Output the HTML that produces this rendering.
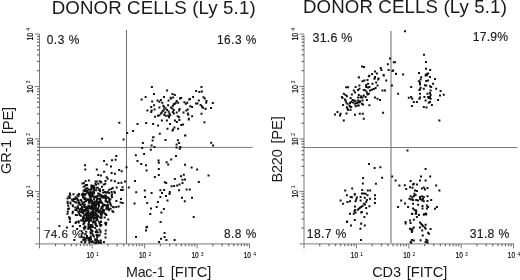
<!DOCTYPE html>
<html><head><meta charset="utf-8"><style>
html,body{margin:0;padding:0;background:#fff;}
svg{display:block;filter:blur(0.3px);}
text{font-family:"Liberation Sans",sans-serif;}
</style></head><body>
<svg width="520" height="280" viewBox="0 0 520 280">
<rect width="520" height="280" fill="#fff"/>
<line x1="39.5" y1="34" x2="39.5" y2="248.4" stroke="#7a7a7a" stroke-width="1"/>
<line x1="35.2" y1="243.9" x2="249.5" y2="243.9" stroke="#7a7a7a" stroke-width="1"/>
<line x1="37.0" y1="228.10" x2="39.5" y2="228.10" stroke="#6a6a6a" stroke-width="1.2"/>
<line x1="55.49" y1="243.9" x2="55.49" y2="246.20000000000002" stroke="#6a6a6a" stroke-width="1.2"/>
<line x1="37.0" y1="218.87" x2="39.5" y2="218.87" stroke="#6a6a6a" stroke-width="1.2"/>
<line x1="64.73" y1="243.9" x2="64.73" y2="246.20000000000002" stroke="#6a6a6a" stroke-width="1.2"/>
<line x1="37.0" y1="212.31" x2="39.5" y2="212.31" stroke="#6a6a6a" stroke-width="1.2"/>
<line x1="71.28" y1="243.9" x2="71.28" y2="246.20000000000002" stroke="#6a6a6a" stroke-width="1.2"/>
<line x1="37.0" y1="207.23" x2="39.5" y2="207.23" stroke="#6a6a6a" stroke-width="1.2"/>
<line x1="76.36" y1="243.9" x2="76.36" y2="246.20000000000002" stroke="#6a6a6a" stroke-width="1.2"/>
<line x1="37.0" y1="203.07" x2="39.5" y2="203.07" stroke="#6a6a6a" stroke-width="1.2"/>
<line x1="80.51" y1="243.9" x2="80.51" y2="246.20000000000002" stroke="#6a6a6a" stroke-width="1.2"/>
<line x1="37.0" y1="199.56" x2="39.5" y2="199.56" stroke="#6a6a6a" stroke-width="1.2"/>
<line x1="84.03" y1="243.9" x2="84.03" y2="246.20000000000002" stroke="#6a6a6a" stroke-width="1.2"/>
<line x1="37.0" y1="196.51" x2="39.5" y2="196.51" stroke="#6a6a6a" stroke-width="1.2"/>
<line x1="87.07" y1="243.9" x2="87.07" y2="246.20000000000002" stroke="#6a6a6a" stroke-width="1.2"/>
<line x1="37.0" y1="193.83" x2="39.5" y2="193.83" stroke="#6a6a6a" stroke-width="1.2"/>
<line x1="89.75" y1="243.9" x2="89.75" y2="246.20000000000002" stroke="#6a6a6a" stroke-width="1.2"/>
<line x1="37.0" y1="175.63" x2="39.5" y2="175.63" stroke="#6a6a6a" stroke-width="1.2"/>
<line x1="107.94" y1="243.9" x2="107.94" y2="246.20000000000002" stroke="#6a6a6a" stroke-width="1.2"/>
<line x1="37.0" y1="166.40" x2="39.5" y2="166.40" stroke="#6a6a6a" stroke-width="1.2"/>
<line x1="117.18" y1="243.9" x2="117.18" y2="246.20000000000002" stroke="#6a6a6a" stroke-width="1.2"/>
<line x1="37.0" y1="159.84" x2="39.5" y2="159.84" stroke="#6a6a6a" stroke-width="1.2"/>
<line x1="123.73" y1="243.9" x2="123.73" y2="246.20000000000002" stroke="#6a6a6a" stroke-width="1.2"/>
<line x1="37.0" y1="154.76" x2="39.5" y2="154.76" stroke="#6a6a6a" stroke-width="1.2"/>
<line x1="128.81" y1="243.9" x2="128.81" y2="246.20000000000002" stroke="#6a6a6a" stroke-width="1.2"/>
<line x1="37.0" y1="150.60" x2="39.5" y2="150.60" stroke="#6a6a6a" stroke-width="1.2"/>
<line x1="132.96" y1="243.9" x2="132.96" y2="246.20000000000002" stroke="#6a6a6a" stroke-width="1.2"/>
<line x1="37.0" y1="147.09" x2="39.5" y2="147.09" stroke="#6a6a6a" stroke-width="1.2"/>
<line x1="136.48" y1="243.9" x2="136.48" y2="246.20000000000002" stroke="#6a6a6a" stroke-width="1.2"/>
<line x1="37.0" y1="144.04" x2="39.5" y2="144.04" stroke="#6a6a6a" stroke-width="1.2"/>
<line x1="139.52" y1="243.9" x2="139.52" y2="246.20000000000002" stroke="#6a6a6a" stroke-width="1.2"/>
<line x1="37.0" y1="141.36" x2="39.5" y2="141.36" stroke="#6a6a6a" stroke-width="1.2"/>
<line x1="142.20" y1="243.9" x2="142.20" y2="246.20000000000002" stroke="#6a6a6a" stroke-width="1.2"/>
<line x1="37.0" y1="123.16" x2="39.5" y2="123.16" stroke="#6a6a6a" stroke-width="1.2"/>
<line x1="160.39" y1="243.9" x2="160.39" y2="246.20000000000002" stroke="#6a6a6a" stroke-width="1.2"/>
<line x1="37.0" y1="113.93" x2="39.5" y2="113.93" stroke="#6a6a6a" stroke-width="1.2"/>
<line x1="169.63" y1="243.9" x2="169.63" y2="246.20000000000002" stroke="#6a6a6a" stroke-width="1.2"/>
<line x1="37.0" y1="107.37" x2="39.5" y2="107.37" stroke="#6a6a6a" stroke-width="1.2"/>
<line x1="176.18" y1="243.9" x2="176.18" y2="246.20000000000002" stroke="#6a6a6a" stroke-width="1.2"/>
<line x1="37.0" y1="102.29" x2="39.5" y2="102.29" stroke="#6a6a6a" stroke-width="1.2"/>
<line x1="181.26" y1="243.9" x2="181.26" y2="246.20000000000002" stroke="#6a6a6a" stroke-width="1.2"/>
<line x1="37.0" y1="98.13" x2="39.5" y2="98.13" stroke="#6a6a6a" stroke-width="1.2"/>
<line x1="185.41" y1="243.9" x2="185.41" y2="246.20000000000002" stroke="#6a6a6a" stroke-width="1.2"/>
<line x1="37.0" y1="94.62" x2="39.5" y2="94.62" stroke="#6a6a6a" stroke-width="1.2"/>
<line x1="188.93" y1="243.9" x2="188.93" y2="246.20000000000002" stroke="#6a6a6a" stroke-width="1.2"/>
<line x1="37.0" y1="91.57" x2="39.5" y2="91.57" stroke="#6a6a6a" stroke-width="1.2"/>
<line x1="191.97" y1="243.9" x2="191.97" y2="246.20000000000002" stroke="#6a6a6a" stroke-width="1.2"/>
<line x1="37.0" y1="88.89" x2="39.5" y2="88.89" stroke="#6a6a6a" stroke-width="1.2"/>
<line x1="194.65" y1="243.9" x2="194.65" y2="246.20000000000002" stroke="#6a6a6a" stroke-width="1.2"/>
<line x1="37.0" y1="70.69" x2="39.5" y2="70.69" stroke="#6a6a6a" stroke-width="1.2"/>
<line x1="212.84" y1="243.9" x2="212.84" y2="246.20000000000002" stroke="#6a6a6a" stroke-width="1.2"/>
<line x1="37.0" y1="61.46" x2="39.5" y2="61.46" stroke="#6a6a6a" stroke-width="1.2"/>
<line x1="222.08" y1="243.9" x2="222.08" y2="246.20000000000002" stroke="#6a6a6a" stroke-width="1.2"/>
<line x1="37.0" y1="54.90" x2="39.5" y2="54.90" stroke="#6a6a6a" stroke-width="1.2"/>
<line x1="228.63" y1="243.9" x2="228.63" y2="246.20000000000002" stroke="#6a6a6a" stroke-width="1.2"/>
<line x1="37.0" y1="49.82" x2="39.5" y2="49.82" stroke="#6a6a6a" stroke-width="1.2"/>
<line x1="233.71" y1="243.9" x2="233.71" y2="246.20000000000002" stroke="#6a6a6a" stroke-width="1.2"/>
<line x1="37.0" y1="45.66" x2="39.5" y2="45.66" stroke="#6a6a6a" stroke-width="1.2"/>
<line x1="237.86" y1="243.9" x2="237.86" y2="246.20000000000002" stroke="#6a6a6a" stroke-width="1.2"/>
<line x1="37.0" y1="42.15" x2="39.5" y2="42.15" stroke="#6a6a6a" stroke-width="1.2"/>
<line x1="241.38" y1="243.9" x2="241.38" y2="246.20000000000002" stroke="#6a6a6a" stroke-width="1.2"/>
<line x1="37.0" y1="39.10" x2="39.5" y2="39.10" stroke="#6a6a6a" stroke-width="1.2"/>
<line x1="244.42" y1="243.9" x2="244.42" y2="246.20000000000002" stroke="#6a6a6a" stroke-width="1.2"/>
<line x1="37.0" y1="36.42" x2="39.5" y2="36.42" stroke="#6a6a6a" stroke-width="1.2"/>
<line x1="247.10" y1="243.9" x2="247.10" y2="246.20000000000002" stroke="#6a6a6a" stroke-width="1.2"/>
<line x1="35.0" y1="191.43" x2="39.5" y2="191.43" stroke="#7a7a7a" stroke-width="1"/>
<line x1="92.15" y1="243.9" x2="92.15" y2="248.4" stroke="#7a7a7a" stroke-width="1"/>
<line x1="35.0" y1="138.96" x2="39.5" y2="138.96" stroke="#7a7a7a" stroke-width="1"/>
<line x1="144.60" y1="243.9" x2="144.60" y2="248.4" stroke="#7a7a7a" stroke-width="1"/>
<line x1="35.0" y1="86.49" x2="39.5" y2="86.49" stroke="#7a7a7a" stroke-width="1"/>
<line x1="197.05" y1="243.9" x2="197.05" y2="248.4" stroke="#7a7a7a" stroke-width="1"/>
<line x1="35.0" y1="34.02" x2="39.5" y2="34.02" stroke="#7a7a7a" stroke-width="1"/>
<line x1="249.50" y1="243.9" x2="249.50" y2="248.4" stroke="#7a7a7a" stroke-width="1"/>
<line x1="304.0" y1="35" x2="304.0" y2="248.4" stroke="#7a7a7a" stroke-width="1"/>
<line x1="299.5" y1="243.9" x2="514" y2="243.9" stroke="#7a7a7a" stroke-width="1"/>
<line x1="301.5" y1="228.10" x2="304.0" y2="228.10" stroke="#6a6a6a" stroke-width="1.2"/>
<line x1="319.77" y1="243.9" x2="319.77" y2="246.20000000000002" stroke="#6a6a6a" stroke-width="1.2"/>
<line x1="301.5" y1="218.87" x2="304.0" y2="218.87" stroke="#6a6a6a" stroke-width="1.2"/>
<line x1="329.00" y1="243.9" x2="329.00" y2="246.20000000000002" stroke="#6a6a6a" stroke-width="1.2"/>
<line x1="301.5" y1="212.31" x2="304.0" y2="212.31" stroke="#6a6a6a" stroke-width="1.2"/>
<line x1="335.55" y1="243.9" x2="335.55" y2="246.20000000000002" stroke="#6a6a6a" stroke-width="1.2"/>
<line x1="301.5" y1="207.23" x2="304.0" y2="207.23" stroke="#6a6a6a" stroke-width="1.2"/>
<line x1="340.63" y1="243.9" x2="340.63" y2="246.20000000000002" stroke="#6a6a6a" stroke-width="1.2"/>
<line x1="301.5" y1="203.07" x2="304.0" y2="203.07" stroke="#6a6a6a" stroke-width="1.2"/>
<line x1="344.78" y1="243.9" x2="344.78" y2="246.20000000000002" stroke="#6a6a6a" stroke-width="1.2"/>
<line x1="301.5" y1="199.56" x2="304.0" y2="199.56" stroke="#6a6a6a" stroke-width="1.2"/>
<line x1="348.28" y1="243.9" x2="348.28" y2="246.20000000000002" stroke="#6a6a6a" stroke-width="1.2"/>
<line x1="301.5" y1="196.51" x2="304.0" y2="196.51" stroke="#6a6a6a" stroke-width="1.2"/>
<line x1="351.32" y1="243.9" x2="351.32" y2="246.20000000000002" stroke="#6a6a6a" stroke-width="1.2"/>
<line x1="301.5" y1="193.83" x2="304.0" y2="193.83" stroke="#6a6a6a" stroke-width="1.2"/>
<line x1="354.00" y1="243.9" x2="354.00" y2="246.20000000000002" stroke="#6a6a6a" stroke-width="1.2"/>
<line x1="301.5" y1="175.63" x2="304.0" y2="175.63" stroke="#6a6a6a" stroke-width="1.2"/>
<line x1="372.17" y1="243.9" x2="372.17" y2="246.20000000000002" stroke="#6a6a6a" stroke-width="1.2"/>
<line x1="301.5" y1="166.40" x2="304.0" y2="166.40" stroke="#6a6a6a" stroke-width="1.2"/>
<line x1="381.40" y1="243.9" x2="381.40" y2="246.20000000000002" stroke="#6a6a6a" stroke-width="1.2"/>
<line x1="301.5" y1="159.84" x2="304.0" y2="159.84" stroke="#6a6a6a" stroke-width="1.2"/>
<line x1="387.95" y1="243.9" x2="387.95" y2="246.20000000000002" stroke="#6a6a6a" stroke-width="1.2"/>
<line x1="301.5" y1="154.76" x2="304.0" y2="154.76" stroke="#6a6a6a" stroke-width="1.2"/>
<line x1="393.03" y1="243.9" x2="393.03" y2="246.20000000000002" stroke="#6a6a6a" stroke-width="1.2"/>
<line x1="301.5" y1="150.60" x2="304.0" y2="150.60" stroke="#6a6a6a" stroke-width="1.2"/>
<line x1="397.18" y1="243.9" x2="397.18" y2="246.20000000000002" stroke="#6a6a6a" stroke-width="1.2"/>
<line x1="301.5" y1="147.09" x2="304.0" y2="147.09" stroke="#6a6a6a" stroke-width="1.2"/>
<line x1="400.68" y1="243.9" x2="400.68" y2="246.20000000000002" stroke="#6a6a6a" stroke-width="1.2"/>
<line x1="301.5" y1="144.04" x2="304.0" y2="144.04" stroke="#6a6a6a" stroke-width="1.2"/>
<line x1="403.72" y1="243.9" x2="403.72" y2="246.20000000000002" stroke="#6a6a6a" stroke-width="1.2"/>
<line x1="301.5" y1="141.36" x2="304.0" y2="141.36" stroke="#6a6a6a" stroke-width="1.2"/>
<line x1="406.40" y1="243.9" x2="406.40" y2="246.20000000000002" stroke="#6a6a6a" stroke-width="1.2"/>
<line x1="301.5" y1="123.16" x2="304.0" y2="123.16" stroke="#6a6a6a" stroke-width="1.2"/>
<line x1="424.57" y1="243.9" x2="424.57" y2="246.20000000000002" stroke="#6a6a6a" stroke-width="1.2"/>
<line x1="301.5" y1="113.93" x2="304.0" y2="113.93" stroke="#6a6a6a" stroke-width="1.2"/>
<line x1="433.80" y1="243.9" x2="433.80" y2="246.20000000000002" stroke="#6a6a6a" stroke-width="1.2"/>
<line x1="301.5" y1="107.37" x2="304.0" y2="107.37" stroke="#6a6a6a" stroke-width="1.2"/>
<line x1="440.35" y1="243.9" x2="440.35" y2="246.20000000000002" stroke="#6a6a6a" stroke-width="1.2"/>
<line x1="301.5" y1="102.29" x2="304.0" y2="102.29" stroke="#6a6a6a" stroke-width="1.2"/>
<line x1="445.43" y1="243.9" x2="445.43" y2="246.20000000000002" stroke="#6a6a6a" stroke-width="1.2"/>
<line x1="301.5" y1="98.13" x2="304.0" y2="98.13" stroke="#6a6a6a" stroke-width="1.2"/>
<line x1="449.58" y1="243.9" x2="449.58" y2="246.20000000000002" stroke="#6a6a6a" stroke-width="1.2"/>
<line x1="301.5" y1="94.62" x2="304.0" y2="94.62" stroke="#6a6a6a" stroke-width="1.2"/>
<line x1="453.08" y1="243.9" x2="453.08" y2="246.20000000000002" stroke="#6a6a6a" stroke-width="1.2"/>
<line x1="301.5" y1="91.57" x2="304.0" y2="91.57" stroke="#6a6a6a" stroke-width="1.2"/>
<line x1="456.12" y1="243.9" x2="456.12" y2="246.20000000000002" stroke="#6a6a6a" stroke-width="1.2"/>
<line x1="301.5" y1="88.89" x2="304.0" y2="88.89" stroke="#6a6a6a" stroke-width="1.2"/>
<line x1="458.80" y1="243.9" x2="458.80" y2="246.20000000000002" stroke="#6a6a6a" stroke-width="1.2"/>
<line x1="301.5" y1="70.69" x2="304.0" y2="70.69" stroke="#6a6a6a" stroke-width="1.2"/>
<line x1="476.97" y1="243.9" x2="476.97" y2="246.20000000000002" stroke="#6a6a6a" stroke-width="1.2"/>
<line x1="301.5" y1="61.46" x2="304.0" y2="61.46" stroke="#6a6a6a" stroke-width="1.2"/>
<line x1="486.20" y1="243.9" x2="486.20" y2="246.20000000000002" stroke="#6a6a6a" stroke-width="1.2"/>
<line x1="301.5" y1="54.90" x2="304.0" y2="54.90" stroke="#6a6a6a" stroke-width="1.2"/>
<line x1="492.75" y1="243.9" x2="492.75" y2="246.20000000000002" stroke="#6a6a6a" stroke-width="1.2"/>
<line x1="301.5" y1="49.82" x2="304.0" y2="49.82" stroke="#6a6a6a" stroke-width="1.2"/>
<line x1="497.83" y1="243.9" x2="497.83" y2="246.20000000000002" stroke="#6a6a6a" stroke-width="1.2"/>
<line x1="301.5" y1="45.66" x2="304.0" y2="45.66" stroke="#6a6a6a" stroke-width="1.2"/>
<line x1="501.98" y1="243.9" x2="501.98" y2="246.20000000000002" stroke="#6a6a6a" stroke-width="1.2"/>
<line x1="301.5" y1="42.15" x2="304.0" y2="42.15" stroke="#6a6a6a" stroke-width="1.2"/>
<line x1="505.48" y1="243.9" x2="505.48" y2="246.20000000000002" stroke="#6a6a6a" stroke-width="1.2"/>
<line x1="301.5" y1="39.10" x2="304.0" y2="39.10" stroke="#6a6a6a" stroke-width="1.2"/>
<line x1="508.52" y1="243.9" x2="508.52" y2="246.20000000000002" stroke="#6a6a6a" stroke-width="1.2"/>
<line x1="301.5" y1="36.42" x2="304.0" y2="36.42" stroke="#6a6a6a" stroke-width="1.2"/>
<line x1="511.20" y1="243.9" x2="511.20" y2="246.20000000000002" stroke="#6a6a6a" stroke-width="1.2"/>
<line x1="299.5" y1="191.43" x2="304.0" y2="191.43" stroke="#7a7a7a" stroke-width="1"/>
<line x1="356.40" y1="243.9" x2="356.40" y2="248.4" stroke="#7a7a7a" stroke-width="1"/>
<line x1="299.5" y1="138.96" x2="304.0" y2="138.96" stroke="#7a7a7a" stroke-width="1"/>
<line x1="408.80" y1="243.9" x2="408.80" y2="248.4" stroke="#7a7a7a" stroke-width="1"/>
<line x1="299.5" y1="86.49" x2="304.0" y2="86.49" stroke="#7a7a7a" stroke-width="1"/>
<line x1="461.20" y1="243.9" x2="461.20" y2="248.4" stroke="#7a7a7a" stroke-width="1"/>
<line x1="299.5" y1="34.02" x2="304.0" y2="34.02" stroke="#7a7a7a" stroke-width="1"/>
<line x1="513.60" y1="243.9" x2="513.60" y2="248.4" stroke="#7a7a7a" stroke-width="1"/>
<line x1="126.5" y1="30" x2="126.5" y2="243.9" stroke="#6e6e6e" stroke-width="1"/>
<line x1="39.5" y1="147.4" x2="252.8" y2="147.4" stroke="#7a7a7a" stroke-width="1"/>
<line x1="391" y1="31" x2="391" y2="243.9" stroke="#b4b4b4" stroke-width="2"/>
<line x1="304" y1="147.5" x2="517.5" y2="147.5" stroke="#7a7a7a" stroke-width="1"/>
<text x="86.60" y="257.60" font-size="8.8" textLength="7.21" lengthAdjust="spacingAndGlyphs" fill="#000" stroke="#000" stroke-width="0.2">10</text>
<text x="95.89" y="256.10" font-size="5.0" fill="#000">1</text>
<text transform="translate(33.00,197.78) rotate(-90)" font-size="8.8" textLength="7.81" lengthAdjust="spacingAndGlyphs" fill="#000" stroke="#000" stroke-width="0.2">10</text>
<text transform="translate(30.40,188.29) rotate(-90)" font-size="5.0" fill="#000">1</text>
<text x="138.99" y="257.60" font-size="8.8" textLength="7.21" lengthAdjust="spacingAndGlyphs" fill="#000" stroke="#000" stroke-width="0.2">10</text>
<text x="148.41" y="256.10" font-size="5.0" fill="#000">2</text>
<text transform="translate(33.00,145.37) rotate(-90)" font-size="8.8" textLength="7.81" lengthAdjust="spacingAndGlyphs" fill="#000" stroke="#000" stroke-width="0.2">10</text>
<text transform="translate(30.40,135.75) rotate(-90)" font-size="5.0" fill="#000">2</text>
<text x="191.39" y="257.60" font-size="8.8" textLength="7.21" lengthAdjust="spacingAndGlyphs" fill="#000" stroke="#000" stroke-width="0.2">10</text>
<text x="200.87" y="256.10" font-size="5.0" fill="#000">3</text>
<text transform="translate(33.00,92.95) rotate(-90)" font-size="8.8" textLength="7.81" lengthAdjust="spacingAndGlyphs" fill="#000" stroke="#000" stroke-width="0.2">10</text>
<text transform="translate(30.40,83.27) rotate(-90)" font-size="5.0" fill="#000">3</text>
<text x="243.77" y="257.60" font-size="8.8" textLength="7.21" lengthAdjust="spacingAndGlyphs" fill="#000" stroke="#000" stroke-width="0.2">10</text>
<text x="253.33" y="256.10" font-size="5.0" fill="#000">4</text>
<text transform="translate(33.00,40.55) rotate(-90)" font-size="8.8" textLength="7.81" lengthAdjust="spacingAndGlyphs" fill="#000" stroke="#000" stroke-width="0.2">10</text>
<text transform="translate(30.40,30.79) rotate(-90)" font-size="5.0" fill="#000">4</text>
<text x="350.85" y="257.60" font-size="8.8" textLength="7.21" lengthAdjust="spacingAndGlyphs" fill="#000" stroke="#000" stroke-width="0.2">10</text>
<text x="360.14" y="256.10" font-size="5.0" fill="#000">1</text>
<text transform="translate(297.50,197.78) rotate(-90)" font-size="8.8" textLength="7.81" lengthAdjust="spacingAndGlyphs" fill="#000" stroke="#000" stroke-width="0.2">10</text>
<text transform="translate(294.90,188.29) rotate(-90)" font-size="5.0" fill="#000">1</text>
<text x="403.19" y="257.60" font-size="8.8" textLength="7.21" lengthAdjust="spacingAndGlyphs" fill="#000" stroke="#000" stroke-width="0.2">10</text>
<text x="412.61" y="256.10" font-size="5.0" fill="#000">2</text>
<text transform="translate(297.50,145.37) rotate(-90)" font-size="8.8" textLength="7.81" lengthAdjust="spacingAndGlyphs" fill="#000" stroke="#000" stroke-width="0.2">10</text>
<text transform="translate(294.90,135.75) rotate(-90)" font-size="5.0" fill="#000">2</text>
<text x="455.54" y="257.60" font-size="8.8" textLength="7.21" lengthAdjust="spacingAndGlyphs" fill="#000" stroke="#000" stroke-width="0.2">10</text>
<text x="465.02" y="256.10" font-size="5.0" fill="#000">3</text>
<text transform="translate(297.50,92.95) rotate(-90)" font-size="8.8" textLength="7.81" lengthAdjust="spacingAndGlyphs" fill="#000" stroke="#000" stroke-width="0.2">10</text>
<text transform="translate(294.90,83.27) rotate(-90)" font-size="5.0" fill="#000">3</text>
<text x="507.87" y="257.60" font-size="8.8" textLength="7.21" lengthAdjust="spacingAndGlyphs" fill="#000" stroke="#000" stroke-width="0.2">10</text>
<text x="517.43" y="256.10" font-size="5.0" fill="#000">4</text>
<text transform="translate(297.50,40.55) rotate(-90)" font-size="8.8" textLength="7.81" lengthAdjust="spacingAndGlyphs" fill="#000" stroke="#000" stroke-width="0.2">10</text>
<text transform="translate(294.90,30.79) rotate(-90)" font-size="5.0" fill="#000">4</text>
<text x="51.67" y="13.80" font-size="18.70" textLength="203.99" lengthAdjust="spacing" fill="#1a1a1a">DONOR CELLS (Ly 5.1)</text>
<text x="302.97" y="13.00" font-size="18.70" textLength="203.89" lengthAdjust="spacing" fill="#1a1a1a">DONOR CELLS (Ly 5.1)</text>
<text x="46.74" y="43.80" font-size="11.89" textLength="32.49" lengthAdjust="spacing" fill="#1a1a1a" stroke="#1a1a1a" stroke-width="0.15">0.3 %</text>
<text x="217.09" y="43.80" font-size="11.89" textLength="39.13" lengthAdjust="spacing" fill="#1a1a1a" stroke="#1a1a1a" stroke-width="0.15">16.3 %</text>
<text x="43.90" y="238.20" font-size="11.75" textLength="38.52" lengthAdjust="spacing" fill="#1a1a1a" stroke="#1a1a1a" stroke-width="0.15">74.6 %</text>
<text x="223.98" y="238.00" font-size="11.89" textLength="32.24" lengthAdjust="spacing" fill="#1a1a1a" stroke="#1a1a1a" stroke-width="0.15">8.8 %</text>
<text x="312.53" y="41.50" font-size="12.46" textLength="39.92" lengthAdjust="spacing" fill="#1a1a1a" stroke="#1a1a1a" stroke-width="0.15">31.6 %</text>
<text x="472.77" y="41.30" font-size="12.18" textLength="35.36" lengthAdjust="spacing" fill="#1a1a1a" stroke="#1a1a1a" stroke-width="0.15">17.9%</text>
<text x="306.87" y="238.00" font-size="12.18" textLength="39.36" lengthAdjust="spacing" fill="#1a1a1a" stroke="#1a1a1a" stroke-width="0.15">18.7 %</text>
<text x="469.74" y="237.80" font-size="12.18" textLength="39.50" lengthAdjust="spacing" fill="#1a1a1a" stroke="#1a1a1a" stroke-width="0.15">31.8 %</text>
<text x="126.03" y="276.50" font-size="14.30" textLength="38.67" lengthAdjust="spacing" fill="#1a1a1a">Mac-1</text>
<text x="170.75" y="276.50" font-size="14.70" textLength="40.70" lengthAdjust="spacing" fill="#1a1a1a">[FITC]</text>
<text x="372.16" y="276.60" font-size="14.50" textLength="28.97" lengthAdjust="spacing" fill="#1a1a1a">CD3</text>
<text x="406.65" y="276.60" font-size="14.70" textLength="40.80" lengthAdjust="spacing" fill="#1a1a1a">[FITC]</text>
<text transform="translate(10.60,173.93) rotate(-90)" font-size="14.60" textLength="34.15" lengthAdjust="spacing" fill="#1a1a1a">GR-1</text>
<text transform="translate(12.70,134.06) rotate(-90)" font-size="14.80" textLength="27.31" lengthAdjust="spacing" fill="#1a1a1a">[PE]</text>
<text transform="translate(282.40,182.39) rotate(-90)" font-size="14.50" textLength="33.16" lengthAdjust="spacing" fill="#1a1a1a">B220</text>
<text transform="translate(281.90,143.56) rotate(-90)" font-size="14.80" textLength="27.41" lengthAdjust="spacing" fill="#1a1a1a">[PE]</text>
<path d="M118.3 121.7h2v2h-2zM126.2 132.0h2v2h-2zM101.1 137.8h2v2h-2zM122.6 138.6h2v2h-2zM150.9 86.1h2v2h-2zM166.1 89.6h2v2h-2zM153.0 93.1h2v2h-2zM171.5 93.1h2v2h-2zM173.8 94.0h2v2h-2zM144.6 96.1h2v2h-2zM163.0 96.1h2v2h-2zM140.6 98.6h2v2h-2zM169.6 96.8h2v2h-2zM172.1 96.5h2v2h-2zM179.0 97.5h2v2h-2zM180.2 96.9h2v2h-2zM192.1 95.9h2v2h-2zM189.0 98.0h2v2h-2zM200.5 86.1h2v2h-2zM195.2 89.9h2v2h-2zM198.4 91.1h2v2h-2zM200.9 90.5h2v2h-2zM202.5 96.2h2v2h-2zM203.8 97.5h2v2h-2zM197.8 99.6h2v2h-2zM205.5 100.0h2v2h-2zM205.2 101.8h2v2h-2zM195.0 102.5h2v2h-2zM196.5 102.5h2v2h-2zM211.8 102.0h2v2h-2zM199.6 104.0h2v2h-2zM200.9 105.2h2v2h-2zM202.1 106.8h2v2h-2zM204.6 107.8h2v2h-2zM210.0 106.9h2v2h-2zM178.4 119.0h2v2h-2zM187.8 118.4h2v2h-2zM160.9 119.6h2v2h-2zM165.9 119.6h2v2h-2zM174.0 119.6h2v2h-2zM175.9 120.9h2v2h-2zM145.2 122.1h2v2h-2zM136.5 123.0h2v2h-2zM152.1 123.0h2v2h-2zM157.1 124.6h2v2h-2zM169.0 123.0h2v2h-2zM180.2 124.0h2v2h-2zM182.1 123.4h2v2h-2zM173.4 126.5h2v2h-2zM172.1 128.4h2v2h-2zM171.5 129.6h2v2h-2zM166.5 127.8h2v2h-2zM177.1 127.8h2v2h-2zM132.1 130.0h2v2h-2zM158.8 132.8h2v2h-2zM152.1 136.2h2v2h-2zM184.0 134.4h2v2h-2zM201.5 106.5h2v2h-2zM204.6 108.0h2v2h-2zM200.5 112.8h2v2h-2zM203.4 121.2h2v2h-2zM152.5 136.2h2v2h-2zM151.6 139.6h2v2h-2zM141.9 141.9h2v2h-2zM164.5 139.0h2v2h-2zM150.6 144.6h2v2h-2zM153.5 146.1h2v2h-2zM141.2 146.9h2v2h-2zM149.8 148.8h2v2h-2zM176.9 139.2h2v2h-2zM178.1 141.9h2v2h-2zM175.6 143.4h2v2h-2zM175.6 146.5h2v2h-2zM179.4 145.9h2v2h-2zM178.8 147.8h2v2h-2zM184.4 134.6h2v2h-2zM134.8 154.2h2v2h-2zM143.1 153.0h2v2h-2zM175.0 155.0h2v2h-2zM136.5 160.0h2v2h-2zM157.5 159.4h2v2h-2zM157.8 161.8h2v2h-2zM165.6 161.2h2v2h-2zM167.2 163.4h2v2h-2zM170.2 158.4h2v2h-2zM140.2 163.0h2v2h-2zM145.0 164.2h2v2h-2zM184.0 163.8h2v2h-2zM157.8 168.0h2v2h-2zM125.5 166.2h2v2h-2zM210.2 141.8h2v2h-2zM212.1 144.6h2v2h-2zM190.6 166.5h2v2h-2zM196.2 168.5h2v2h-2zM145.6 169.6h2v2h-2zM157.8 174.0h2v2h-2zM153.8 175.9h2v2h-2zM134.0 180.0h2v2h-2zM173.8 178.0h2v2h-2zM180.0 175.2h2v2h-2zM182.8 173.8h2v2h-2zM181.5 178.8h2v2h-2zM184.0 178.4h2v2h-2zM163.8 181.2h2v2h-2zM165.2 182.1h2v2h-2zM127.8 186.5h2v2h-2zM170.6 185.2h2v2h-2zM173.1 185.0h2v2h-2zM176.2 184.6h2v2h-2zM178.5 183.4h2v2h-2zM181.5 182.1h2v2h-2zM159.4 189.2h2v2h-2zM163.1 189.0h2v2h-2zM143.8 189.6h2v2h-2zM135.2 191.2h2v2h-2zM150.6 192.1h2v2h-2zM161.0 191.9h2v2h-2zM168.8 190.9h2v2h-2zM168.5 193.0h2v2h-2zM178.1 189.2h2v2h-2zM185.6 188.6h2v2h-2zM188.8 188.6h2v2h-2zM144.0 195.9h2v2h-2zM159.4 195.9h2v2h-2zM165.0 195.0h2v2h-2zM181.0 196.8h2v2h-2zM166.5 199.6h2v2h-2zM156.9 200.9h2v2h-2zM183.8 200.2h2v2h-2zM146.2 201.9h2v2h-2zM133.5 202.5h2v2h-2zM207.5 174.6h2v2h-2zM197.8 181.1h2v2h-2zM191.0 196.8h2v2h-2zM150.0 207.6h2v2h-2zM155.7 206.1h2v2h-2zM162.9 208.0h2v2h-2zM149.3 212.9h2v2h-2zM160.4 211.6h2v2h-2zM159.6 221.1h2v2h-2zM146.1 225.7h2v2h-2zM145.3 226.6h2v2h-2zM145.0 229.4h2v2h-2zM163.6 231.9h2v2h-2zM135.0 235.9h2v2h-2zM163.6 235.9h2v2h-2zM160.0 237.7h2v2h-2zM165.4 239.0h2v2h-2zM173.6 239.1h2v2h-2zM158.1 240.9h2v2h-2zM192.7 215.9h2v2h-2zM115.3 155.0h2v2h-2zM114.6 158.7h2v2h-2zM111.0 159.3h2v2h-2zM103.1 160.0h2v2h-2zM105.7 163.6h2v2h-2zM110.0 165.5h2v2h-2zM84.0 164.3h2v2h-2zM84.3 168.4h2v2h-2zM95.8 168.4h2v2h-2zM118.2 169.1h2v2h-2zM120.7 170.2h2v2h-2zM103.1 170.8h2v2h-2zM110.6 172.0h2v2h-2zM113.9 172.7h2v2h-2zM97.3 174.1h2v2h-2zM99.9 174.6h2v2h-2zM105.7 176.3h2v2h-2zM106.7 177.7h2v2h-2zM87.9 179.6h2v2h-2zM82.9 182.1h2v2h-2zM95.8 180.6h2v2h-2zM98.7 180.3h2v2h-2zM100.2 181.4h2v2h-2zM97.3 182.8h2v2h-2zM104.5 179.9h2v2h-2zM110.3 179.5h2v2h-2zM113.9 180.3h2v2h-2zM117.5 182.1h2v2h-2zM120.4 181.8h2v2h-2zM124.0 180.6h2v2h-2zM66.5 212.8h2v2h-2zM68.0 216.2h2v2h-2zM58.4 225.0h2v2h-2zM65.9 226.5h2v2h-2zM71.8 225.2h2v2h-2zM74.6 222.1h2v2h-2zM79.0 225.0h2v2h-2zM151.2 100.4h2v2h-2zM156.5 99.4h2v2h-2zM158.4 100.8h2v2h-2zM159.9 98.9h2v2h-2zM161.3 101.8h2v2h-2zM167.6 99.4h2v2h-2zM170.0 97.5h2v2h-2zM175.7 99.9h2v2h-2zM177.2 101.8h2v2h-2zM172.8 103.2h2v2h-2zM171.9 104.7h2v2h-2zM173.8 102.8h2v2h-2zM174.8 101.8h2v2h-2zM167.1 104.2h2v2h-2zM162.3 104.7h2v2h-2zM153.1 104.2h2v2h-2zM150.2 106.1h2v2h-2zM150.7 109.5h2v2h-2zM150.2 110.9h2v2h-2zM153.6 108.5h2v2h-2zM146.4 109.5h2v2h-2zM158.4 106.6h2v2h-2zM163.2 106.1h2v2h-2zM164.7 107.6h2v2h-2zM166.1 109.0h2v2h-2zM167.6 110.5h2v2h-2zM168.5 112.4h2v2h-2zM169.2 114.3h2v2h-2zM162.8 108.5h2v2h-2zM161.8 110.0h2v2h-2zM160.8 111.4h2v2h-2zM159.9 112.4h2v2h-2zM164.2 111.4h2v2h-2zM163.2 113.8h2v2h-2zM164.7 114.8h2v2h-2zM170.0 106.6h2v2h-2zM171.4 107.6h2v2h-2zM172.8 109.0h2v2h-2zM171.9 111.0h2v2h-2zM172.8 112.4h2v2h-2zM175.7 111.4h2v2h-2zM178.6 108.0h2v2h-2zM178.1 109.5h2v2h-2zM158.4 114.3h2v2h-2zM157.0 114.8h2v2h-2zM154.1 115.8h2v2h-2zM167.1 114.8h2v2h-2zM168.0 116.2h2v2h-2zM176.7 115.3h2v2h-2zM178.1 116.2h2v2h-2zM183.4 101.3h2v2h-2zM184.9 102.8h2v2h-2zM186.3 101.8h2v2h-2zM188.2 98.4h2v2h-2zM189.2 105.2h2v2h-2zM191.1 106.1h2v2h-2zM186.8 108.5h2v2h-2zM185.3 109.5h2v2h-2zM182.5 111.4h2v2h-2zM186.8 112.4h2v2h-2zM187.3 113.8h2v2h-2zM191.1 115.3h2v2h-2zM179.6 97.0h2v2h-2zM187.8 117.7h2v2h-2zM361.1 65.4h2v2h-2zM363.0 66.0h2v2h-2zM389.0 57.6h2v2h-2zM386.9 63.3h2v2h-2zM387.6 69.0h2v2h-2zM379.7 66.9h2v2h-2zM380.4 69.0h2v2h-2zM374.0 70.4h2v2h-2zM375.9 72.6h2v2h-2zM371.1 73.0h2v2h-2zM368.3 74.7h2v2h-2zM382.6 74.0h2v2h-2zM357.9 76.4h2v2h-2zM374.0 76.4h2v2h-2zM377.6 77.6h2v2h-2zM357.8 76.2h2v2h-2zM367.8 75.2h2v2h-2zM374.0 75.9h2v2h-2zM373.4 77.8h2v2h-2zM377.1 78.4h2v2h-2zM382.8 74.6h2v2h-2zM385.2 79.6h2v2h-2zM361.5 80.2h2v2h-2zM363.4 79.6h2v2h-2zM366.5 79.0h2v2h-2zM367.1 82.8h2v2h-2zM365.2 84.0h2v2h-2zM371.5 82.8h2v2h-2zM375.2 81.5h2v2h-2zM376.5 84.6h2v2h-2zM345.2 86.2h2v2h-2zM347.1 86.2h2v2h-2zM354.6 85.9h2v2h-2zM358.4 84.6h2v2h-2zM365.2 85.9h2v2h-2zM367.1 86.5h2v2h-2zM368.4 85.9h2v2h-2zM357.1 89.0h2v2h-2zM358.4 87.8h2v2h-2zM352.8 89.6h2v2h-2zM362.8 89.0h2v2h-2zM364.6 89.6h2v2h-2zM369.0 89.6h2v2h-2zM370.9 88.8h2v2h-2zM372.8 88.0h2v2h-2zM374.6 87.1h2v2h-2zM381.5 89.6h2v2h-2zM384.0 89.6h2v2h-2zM342.8 92.8h2v2h-2zM344.6 94.0h2v2h-2zM345.9 95.2h2v2h-2zM350.9 93.4h2v2h-2zM354.0 91.5h2v2h-2zM357.8 94.0h2v2h-2zM360.2 95.2h2v2h-2zM365.9 91.5h2v2h-2zM366.5 93.4h2v2h-2zM367.8 92.8h2v2h-2zM362.8 94.6h2v2h-2zM340.9 95.9h2v2h-2zM341.5 97.1h2v2h-2zM344.0 98.4h2v2h-2zM344.6 99.6h2v2h-2zM349.6 97.1h2v2h-2zM357.1 96.5h2v2h-2zM359.6 96.5h2v2h-2zM361.5 96.5h2v2h-2zM364.6 95.9h2v2h-2zM374.0 96.5h2v2h-2zM376.5 97.8h2v2h-2zM379.0 99.0h2v2h-2zM351.5 99.0h2v2h-2zM353.4 99.6h2v2h-2zM354.6 100.2h2v2h-2zM350.2 100.9h2v2h-2zM352.1 101.5h2v2h-2zM357.1 99.6h2v2h-2zM359.0 100.2h2v2h-2zM361.5 99.6h2v2h-2zM365.9 99.0h2v2h-2zM345.2 101.5h2v2h-2zM346.5 102.8h2v2h-2zM349.0 102.1h2v2h-2zM354.0 102.8h2v2h-2zM355.9 102.1h2v2h-2zM357.8 101.5h2v2h-2zM359.0 100.9h2v2h-2zM360.9 102.8h2v2h-2zM342.1 104.0h2v2h-2zM348.4 104.6h2v2h-2zM354.6 105.2h2v2h-2zM356.5 104.6h2v2h-2zM362.1 103.4h2v2h-2zM368.4 104.2h2v2h-2zM345.9 106.5h2v2h-2zM346.5 107.8h2v2h-2zM350.2 105.9h2v2h-2zM345.9 106.2h2v2h-2zM349.0 105.5h2v2h-2zM347.1 109.0h2v2h-2zM349.6 108.8h2v2h-2zM357.8 104.6h2v2h-2zM336.5 110.9h2v2h-2zM334.0 113.4h2v2h-2zM339.6 112.8h2v2h-2zM339.0 114.6h2v2h-2zM345.5 112.5h2v2h-2zM354.0 113.8h2v2h-2zM358.8 112.8h2v2h-2zM361.8 112.8h2v2h-2zM382.1 111.8h2v2h-2zM362.8 117.8h2v2h-2zM342.8 119.6h2v2h-2zM423.0 53.8h2v2h-2zM425.0 60.9h2v2h-2zM425.0 67.8h2v2h-2zM429.2 69.0h2v2h-2zM418.0 72.1h2v2h-2zM427.1 72.5h2v2h-2zM425.0 73.4h2v2h-2zM392.8 61.2h2v2h-2zM394.0 61.2h2v2h-2zM392.1 69.6h2v2h-2zM395.0 72.8h2v2h-2zM402.1 73.4h2v2h-2zM404.0 30.2h2v2h-2zM391.5 70.0h2v2h-2zM395.0 73.0h2v2h-2zM426.5 72.8h2v2h-2zM424.6 74.6h2v2h-2zM425.9 74.2h2v2h-2zM429.0 75.9h2v2h-2zM420.2 76.2h2v2h-2zM419.6 78.4h2v2h-2zM434.0 78.0h2v2h-2zM417.8 80.2h2v2h-2zM419.0 81.5h2v2h-2zM425.2 80.0h2v2h-2zM427.1 79.6h2v2h-2zM432.1 82.8h2v2h-2zM390.9 84.6h2v2h-2zM419.0 83.4h2v2h-2zM424.0 84.2h2v2h-2zM425.2 84.6h2v2h-2zM429.0 85.2h2v2h-2zM430.2 85.9h2v2h-2zM410.2 86.1h2v2h-2zM419.6 86.8h2v2h-2zM419.0 88.4h2v2h-2zM418.4 89.0h2v2h-2zM422.8 87.8h2v2h-2zM435.2 87.8h2v2h-2zM429.6 89.6h2v2h-2zM439.6 90.0h2v2h-2zM397.1 92.8h2v2h-2zM419.0 92.8h2v2h-2zM426.5 92.8h2v2h-2zM429.0 92.1h2v2h-2zM429.6 94.0h2v2h-2zM439.0 94.6h2v2h-2zM442.8 93.8h2v2h-2zM407.8 96.8h2v2h-2zM410.2 95.9h2v2h-2zM411.2 97.8h2v2h-2zM419.0 96.5h2v2h-2zM418.4 97.8h2v2h-2zM423.4 95.9h2v2h-2zM427.1 95.9h2v2h-2zM427.8 97.1h2v2h-2zM429.0 95.9h2v2h-2zM429.6 97.8h2v2h-2zM437.1 99.0h2v2h-2zM424.6 99.6h2v2h-2zM412.8 100.9h2v2h-2zM415.9 100.9h2v2h-2zM427.8 101.8h2v2h-2zM429.0 100.9h2v2h-2zM410.9 105.0h2v2h-2zM422.8 105.9h2v2h-2zM425.5 106.5h2v2h-2zM430.9 104.0h2v2h-2zM438.4 119.6h2v2h-2zM368.0 163.0h2v2h-2zM373.6 167.1h2v2h-2zM379.4 166.2h2v2h-2zM362.1 176.9h2v2h-2zM381.1 176.8h2v2h-2zM361.8 182.4h2v2h-2zM374.9 182.8h2v2h-2zM351.2 187.4h2v2h-2zM344.2 189.6h2v2h-2zM361.2 189.0h2v2h-2zM366.8 189.4h2v2h-2zM369.2 189.4h2v2h-2zM353.8 193.1h2v2h-2zM360.9 192.5h2v2h-2zM362.8 192.5h2v2h-2zM364.6 192.8h2v2h-2zM345.9 194.2h2v2h-2zM353.8 193.8h2v2h-2zM366.5 194.2h2v2h-2zM374.0 194.2h2v2h-2zM349.6 195.9h2v2h-2zM350.9 196.2h2v2h-2zM355.9 196.5h2v2h-2zM355.2 198.4h2v2h-2zM359.6 195.9h2v2h-2zM363.8 196.8h2v2h-2zM369.0 197.8h2v2h-2zM374.0 197.8h2v2h-2zM339.6 199.6h2v2h-2zM346.5 200.9h2v2h-2zM349.0 200.2h2v2h-2zM354.6 200.2h2v2h-2zM359.6 199.6h2v2h-2zM365.9 199.0h2v2h-2zM365.2 200.9h2v2h-2zM342.1 202.8h2v2h-2zM374.0 202.1h2v2h-2zM362.8 202.8h2v2h-2zM364.0 203.4h2v2h-2zM354.0 205.6h2v2h-2zM361.5 205.0h2v2h-2zM360.2 205.9h2v2h-2zM359.0 206.8h2v2h-2zM357.8 207.8h2v2h-2zM356.8 208.8h2v2h-2zM368.4 205.2h2v2h-2zM365.2 207.1h2v2h-2zM354.0 209.0h2v2h-2zM353.4 210.2h2v2h-2zM354.6 211.5h2v2h-2zM352.8 212.8h2v2h-2zM360.2 211.5h2v2h-2zM360.9 210.9h2v2h-2zM349.0 212.8h2v2h-2zM365.9 212.5h2v2h-2zM363.4 215.9h2v2h-2zM353.8 219.0h2v2h-2zM345.9 220.9h2v2h-2zM360.2 222.5h2v2h-2zM346.2 220.5h2v2h-2zM350.0 224.6h2v2h-2zM360.2 222.8h2v2h-2zM363.8 224.6h2v2h-2zM359.4 227.8h2v2h-2zM360.0 239.0h2v2h-2zM406.5 149.6h2v2h-2zM424.6 168.0h2v2h-2zM391.2 175.6h2v2h-2zM420.0 175.6h2v2h-2zM429.2 175.6h2v2h-2zM394.6 179.4h2v2h-2zM409.6 179.9h2v2h-2zM419.0 179.4h2v2h-2zM424.6 179.4h2v2h-2zM412.8 182.8h2v2h-2zM415.9 183.4h2v2h-2zM398.4 184.6h2v2h-2zM403.8 184.2h2v2h-2zM405.2 188.0h2v2h-2zM412.1 183.4h2v2h-2zM409.0 186.2h2v2h-2zM411.5 186.8h2v2h-2zM420.9 187.5h2v2h-2zM422.8 186.5h2v2h-2zM424.0 188.4h2v2h-2zM426.5 187.1h2v2h-2zM435.2 184.6h2v2h-2zM438.4 189.6h2v2h-2zM414.0 189.6h2v2h-2zM415.9 190.0h2v2h-2zM413.4 192.8h2v2h-2zM414.6 194.0h2v2h-2zM412.8 195.0h2v2h-2zM409.6 195.2h2v2h-2zM411.5 196.5h2v2h-2zM419.0 195.9h2v2h-2zM420.9 195.2h2v2h-2zM422.8 195.9h2v2h-2zM422.1 197.8h2v2h-2zM420.2 198.4h2v2h-2zM419.0 197.8h2v2h-2zM426.5 195.2h2v2h-2zM408.4 197.8h2v2h-2zM410.2 198.4h2v2h-2zM412.1 199.0h2v2h-2zM415.2 199.0h2v2h-2zM417.1 199.6h2v2h-2zM421.5 199.6h2v2h-2zM422.8 200.2h2v2h-2zM426.5 200.0h2v2h-2zM430.2 199.0h2v2h-2zM400.2 199.6h2v2h-2zM404.0 202.5h2v2h-2zM412.1 202.8h2v2h-2zM417.1 203.8h2v2h-2zM421.5 205.0h2v2h-2zM425.9 204.6h2v2h-2zM427.1 205.9h2v2h-2zM397.1 205.9h2v2h-2zM407.1 205.9h2v2h-2zM412.1 207.5h2v2h-2zM413.4 208.8h2v2h-2zM415.2 209.6h2v2h-2zM421.5 207.5h2v2h-2zM425.9 207.5h2v2h-2zM434.0 207.8h2v2h-2zM435.9 205.9h2v2h-2zM410.9 212.8h2v2h-2zM414.6 212.8h2v2h-2zM423.4 213.0h2v2h-2zM425.2 212.5h2v2h-2zM414.6 209.6h2v2h-2zM415.2 210.9h2v2h-2zM411.2 213.0h2v2h-2zM415.2 212.8h2v2h-2zM418.0 214.0h2v2h-2zM415.9 215.9h2v2h-2zM422.8 213.8h2v2h-2zM425.2 213.4h2v2h-2zM404.6 220.9h2v2h-2zM404.6 222.5h2v2h-2zM409.0 219.6h2v2h-2zM409.6 222.1h2v2h-2zM412.8 218.8h2v2h-2zM419.0 221.5h2v2h-2zM420.2 222.8h2v2h-2zM421.2 224.0h2v2h-2zM422.1 225.2h2v2h-2zM424.6 223.8h2v2h-2zM424.0 226.5h2v2h-2zM424.6 227.8h2v2h-2zM419.0 226.5h2v2h-2zM409.0 227.8h2v2h-2zM410.2 228.8h2v2h-2zM411.5 227.8h2v2h-2zM412.8 226.5h2v2h-2zM410.9 230.9h2v2h-2zM411.2 230.0h2v2h-2zM429.6 228.0h2v2h-2zM421.2 229.6h2v2h-2zM427.1 231.8h2v2h-2zM428.0 232.8h2v2h-2zM421.8 234.6h2v2h-2zM410.9 239.0h2v2h-2zM412.8 239.6h2v2h-2zM409.6 240.9h2v2h-2zM410.2 241.8h2v2h-2zM419.6 239.2h2v2h-2zM425.2 238.8h2v2h-2zM426.5 239.6h2v2h-2zM424.6 240.9h2v2h-2zM426.5 241.8h2v2h-2zM84.6 180.1h2v2h-2zM94.6 180.4h2v2h-2zM99.8 180.8h2v2h-2zM81.4 182.6h2v2h-2zM104.3 182.8h2v2h-2zM94.5 182.8h2v2h-2zM102.9 183.5h2v2h-2zM95.0 183.7h2v2h-2zM86.1 184.1h2v2h-2zM84.6 184.0h2v2h-2zM91.9 184.7h2v2h-2zM90.3 184.4h2v2h-2zM84.4 184.8h2v2h-2zM92.9 185.2h2v2h-2zM82.7 185.7h2v2h-2zM92.0 185.4h2v2h-2zM91.5 186.0h2v2h-2zM101.0 185.8h2v2h-2zM90.5 186.6h2v2h-2zM91.1 186.4h2v2h-2zM95.6 186.7h2v2h-2zM96.8 186.8h2v2h-2zM96.3 186.8h2v2h-2zM93.2 187.0h2v2h-2zM85.6 187.3h2v2h-2zM90.8 187.6h2v2h-2zM86.3 187.3h2v2h-2zM93.0 188.2h2v2h-2zM98.8 188.2h2v2h-2zM84.5 187.9h2v2h-2zM110.4 187.9h2v2h-2zM88.3 188.7h2v2h-2zM87.6 188.4h2v2h-2zM90.2 188.4h2v2h-2zM108.2 188.8h2v2h-2zM102.2 188.9h2v2h-2zM98.1 189.1h2v2h-2zM83.4 189.2h2v2h-2zM99.0 189.5h2v2h-2zM95.3 189.3h2v2h-2zM86.3 189.7h2v2h-2zM94.1 189.3h2v2h-2zM84.0 190.2h2v2h-2zM99.1 190.2h2v2h-2zM82.6 189.8h2v2h-2zM84.6 189.8h2v2h-2zM92.2 190.4h2v2h-2zM106.8 190.7h2v2h-2zM84.1 190.3h2v2h-2zM86.2 190.6h2v2h-2zM92.8 191.2h2v2h-2zM103.9 191.1h2v2h-2zM86.7 190.9h2v2h-2zM113.3 190.8h2v2h-2zM89.7 190.8h2v2h-2zM102.0 191.4h2v2h-2zM86.1 191.4h2v2h-2zM88.6 191.7h2v2h-2zM105.9 191.6h2v2h-2zM89.2 191.5h2v2h-2zM92.9 192.2h2v2h-2zM91.4 192.1h2v2h-2zM93.1 192.1h2v2h-2zM90.5 192.0h2v2h-2zM89.9 192.2h2v2h-2zM82.0 192.5h2v2h-2zM89.2 192.6h2v2h-2zM68.9 192.6h2v2h-2zM97.2 192.4h2v2h-2zM68.9 192.6h2v2h-2zM98.4 193.1h2v2h-2zM83.2 193.2h2v2h-2zM78.0 192.9h2v2h-2zM84.6 193.0h2v2h-2zM87.7 193.1h2v2h-2zM88.3 193.7h2v2h-2zM89.6 193.6h2v2h-2zM80.8 193.5h2v2h-2zM72.5 193.3h2v2h-2zM98.3 193.6h2v2h-2zM81.4 193.9h2v2h-2zM83.9 194.1h2v2h-2zM76.5 194.2h2v2h-2zM91.2 193.9h2v2h-2zM99.8 194.1h2v2h-2zM91.6 193.9h2v2h-2zM103.9 194.5h2v2h-2zM82.4 194.7h2v2h-2zM83.8 194.3h2v2h-2zM104.8 194.5h2v2h-2zM99.1 194.7h2v2h-2zM69.2 194.4h2v2h-2zM88.8 195.0h2v2h-2zM96.3 195.2h2v2h-2zM100.8 195.2h2v2h-2zM77.5 194.9h2v2h-2zM96.7 194.9h2v2h-2zM101.2 194.9h2v2h-2zM82.4 195.4h2v2h-2zM82.3 195.7h2v2h-2zM102.7 195.3h2v2h-2zM89.8 195.3h2v2h-2zM93.3 195.6h2v2h-2zM88.9 195.5h2v2h-2zM91.7 195.8h2v2h-2zM89.2 196.0h2v2h-2zM111.0 195.9h2v2h-2zM94.3 195.8h2v2h-2zM105.6 196.0h2v2h-2zM95.6 196.1h2v2h-2zM100.8 196.6h2v2h-2zM95.1 196.3h2v2h-2zM102.8 196.3h2v2h-2zM74.6 196.3h2v2h-2zM94.2 196.4h2v2h-2zM81.9 196.5h2v2h-2zM105.0 197.1h2v2h-2zM76.3 197.2h2v2h-2zM103.1 196.8h2v2h-2zM107.0 196.8h2v2h-2zM84.2 197.0h2v2h-2zM74.7 196.9h2v2h-2zM74.5 197.7h2v2h-2zM98.9 197.5h2v2h-2zM66.5 197.6h2v2h-2zM96.2 197.7h2v2h-2zM108.0 197.6h2v2h-2zM89.8 197.7h2v2h-2zM84.0 198.2h2v2h-2zM72.7 197.9h2v2h-2zM87.0 198.2h2v2h-2zM97.6 197.8h2v2h-2zM83.5 198.0h2v2h-2zM73.8 198.0h2v2h-2zM85.7 198.7h2v2h-2zM109.4 198.3h2v2h-2zM99.1 198.4h2v2h-2zM92.9 198.3h2v2h-2zM85.6 198.5h2v2h-2zM88.0 198.6h2v2h-2zM70.9 198.7h2v2h-2zM95.9 198.9h2v2h-2zM90.0 199.0h2v2h-2zM87.1 199.1h2v2h-2zM108.6 199.0h2v2h-2zM99.3 198.9h2v2h-2zM79.8 198.9h2v2h-2zM104.8 198.9h2v2h-2zM72.1 199.7h2v2h-2zM77.4 199.4h2v2h-2zM89.3 199.5h2v2h-2zM76.6 199.3h2v2h-2zM91.2 199.7h2v2h-2zM80.5 199.7h2v2h-2zM90.4 200.0h2v2h-2zM90.0 200.0h2v2h-2zM87.7 200.0h2v2h-2zM115.4 199.9h2v2h-2zM84.9 200.0h2v2h-2zM99.7 200.2h2v2h-2zM99.9 200.2h2v2h-2zM88.6 200.6h2v2h-2zM98.0 200.7h2v2h-2zM104.6 200.3h2v2h-2zM105.3 200.3h2v2h-2zM93.9 200.4h2v2h-2zM108.0 200.4h2v2h-2zM87.7 200.6h2v2h-2zM88.0 201.0h2v2h-2zM91.5 201.0h2v2h-2zM98.8 201.0h2v2h-2zM83.5 201.0h2v2h-2zM99.5 200.8h2v2h-2zM95.9 201.1h2v2h-2zM106.3 201.0h2v2h-2zM75.0 201.4h2v2h-2zM77.6 201.6h2v2h-2zM100.3 201.4h2v2h-2zM69.5 201.4h2v2h-2zM98.3 201.7h2v2h-2zM87.9 201.7h2v2h-2zM92.7 201.9h2v2h-2zM109.1 201.8h2v2h-2zM97.2 202.1h2v2h-2zM81.5 201.8h2v2h-2zM77.9 201.8h2v2h-2zM101.1 201.9h2v2h-2zM81.6 202.2h2v2h-2zM69.5 202.5h2v2h-2zM92.2 202.6h2v2h-2zM78.6 202.3h2v2h-2zM96.2 202.3h2v2h-2zM93.7 202.5h2v2h-2zM77.4 202.3h2v2h-2zM90.2 202.3h2v2h-2zM109.4 203.2h2v2h-2zM94.7 203.2h2v2h-2zM93.7 203.0h2v2h-2zM92.4 203.0h2v2h-2zM81.8 203.0h2v2h-2zM78.1 202.8h2v2h-2zM97.8 203.1h2v2h-2zM96.5 203.6h2v2h-2zM102.4 203.5h2v2h-2zM93.7 203.5h2v2h-2zM97.7 203.3h2v2h-2zM106.9 203.6h2v2h-2zM79.2 203.7h2v2h-2zM83.8 203.5h2v2h-2zM83.4 204.2h2v2h-2zM94.4 204.2h2v2h-2zM83.5 204.1h2v2h-2zM95.0 204.0h2v2h-2zM71.7 204.2h2v2h-2zM103.8 204.1h2v2h-2zM79.9 204.1h2v2h-2zM90.8 204.4h2v2h-2zM87.4 204.5h2v2h-2zM101.7 204.6h2v2h-2zM92.2 204.6h2v2h-2zM94.4 204.6h2v2h-2zM83.1 204.5h2v2h-2zM105.1 204.5h2v2h-2zM106.9 205.1h2v2h-2zM91.5 205.1h2v2h-2zM93.8 205.1h2v2h-2zM91.2 205.1h2v2h-2zM91.0 204.8h2v2h-2zM102.4 204.8h2v2h-2zM88.0 204.9h2v2h-2zM94.9 205.5h2v2h-2zM90.1 205.5h2v2h-2zM106.7 205.7h2v2h-2zM91.0 205.3h2v2h-2zM76.8 205.3h2v2h-2zM81.1 205.7h2v2h-2zM98.0 205.3h2v2h-2zM101.6 206.1h2v2h-2zM115.3 206.0h2v2h-2zM100.7 206.0h2v2h-2zM83.3 205.9h2v2h-2zM85.7 206.1h2v2h-2zM83.5 206.1h2v2h-2zM88.3 205.9h2v2h-2zM91.6 206.3h2v2h-2zM94.6 206.6h2v2h-2zM74.3 206.6h2v2h-2zM105.8 206.3h2v2h-2zM89.7 206.3h2v2h-2zM100.7 206.5h2v2h-2zM85.3 206.7h2v2h-2zM87.9 207.1h2v2h-2zM97.2 207.2h2v2h-2zM87.4 207.1h2v2h-2zM88.4 207.0h2v2h-2zM92.5 207.0h2v2h-2zM94.8 206.8h2v2h-2zM77.1 207.0h2v2h-2zM96.9 207.5h2v2h-2zM75.9 207.5h2v2h-2zM100.1 207.7h2v2h-2zM107.5 207.4h2v2h-2zM86.6 207.3h2v2h-2zM105.6 207.6h2v2h-2zM80.3 207.4h2v2h-2zM86.3 208.0h2v2h-2zM79.4 208.1h2v2h-2zM91.6 207.9h2v2h-2zM84.9 208.2h2v2h-2zM109.6 207.8h2v2h-2zM80.9 207.8h2v2h-2zM90.1 208.1h2v2h-2zM102.0 208.5h2v2h-2zM95.4 208.6h2v2h-2zM93.4 208.5h2v2h-2zM84.9 208.5h2v2h-2zM84.3 208.4h2v2h-2zM82.2 208.7h2v2h-2zM105.4 208.3h2v2h-2zM96.6 209.1h2v2h-2zM78.5 208.9h2v2h-2zM84.6 209.2h2v2h-2zM95.0 208.9h2v2h-2zM74.4 208.9h2v2h-2zM75.7 209.2h2v2h-2zM86.5 209.0h2v2h-2zM107.9 209.3h2v2h-2zM103.0 209.3h2v2h-2zM81.0 209.6h2v2h-2zM87.0 209.4h2v2h-2zM92.1 209.4h2v2h-2zM87.6 209.6h2v2h-2zM98.8 209.6h2v2h-2zM95.5 209.9h2v2h-2zM97.1 210.1h2v2h-2zM98.5 209.9h2v2h-2zM102.7 210.0h2v2h-2zM101.7 210.2h2v2h-2zM111.4 210.0h2v2h-2zM83.5 210.2h2v2h-2zM87.4 210.7h2v2h-2zM100.2 210.7h2v2h-2zM91.4 210.4h2v2h-2zM100.4 210.4h2v2h-2zM83.8 210.3h2v2h-2zM97.1 210.5h2v2h-2zM94.8 210.7h2v2h-2zM80.1 210.8h2v2h-2zM92.4 210.9h2v2h-2zM71.9 210.8h2v2h-2zM79.5 211.0h2v2h-2zM90.1 211.2h2v2h-2zM81.4 210.8h2v2h-2zM77.4 211.0h2v2h-2zM94.6 211.6h2v2h-2zM93.2 211.7h2v2h-2zM102.6 211.3h2v2h-2zM97.9 211.6h2v2h-2zM87.1 211.4h2v2h-2zM85.6 211.6h2v2h-2zM92.0 211.9h2v2h-2zM82.1 212.2h2v2h-2zM86.2 212.0h2v2h-2zM81.8 212.1h2v2h-2zM85.9 212.0h2v2h-2zM71.6 212.2h2v2h-2zM101.0 212.7h2v2h-2zM78.2 212.7h2v2h-2zM103.6 212.5h2v2h-2zM87.8 212.6h2v2h-2zM94.2 212.5h2v2h-2zM82.2 212.3h2v2h-2zM99.7 212.8h2v2h-2zM90.6 212.9h2v2h-2zM84.5 213.2h2v2h-2zM94.4 212.8h2v2h-2zM89.5 213.1h2v2h-2zM95.2 213.1h2v2h-2zM100.0 213.5h2v2h-2zM94.7 213.7h2v2h-2zM95.1 213.3h2v2h-2zM92.0 213.4h2v2h-2zM92.3 213.5h2v2h-2zM104.8 213.4h2v2h-2zM90.0 214.1h2v2h-2zM96.2 213.9h2v2h-2zM75.9 214.0h2v2h-2zM86.3 213.9h2v2h-2zM105.4 213.9h2v2h-2zM78.7 214.0h2v2h-2zM85.0 214.3h2v2h-2zM91.7 214.7h2v2h-2zM93.7 214.5h2v2h-2zM83.1 214.5h2v2h-2zM87.0 214.6h2v2h-2zM100.5 214.9h2v2h-2zM91.6 215.1h2v2h-2zM88.4 214.8h2v2h-2zM79.9 214.8h2v2h-2zM88.2 215.2h2v2h-2zM96.8 215.0h2v2h-2zM97.5 215.5h2v2h-2zM90.7 215.3h2v2h-2zM91.1 215.7h2v2h-2zM90.6 215.7h2v2h-2zM92.5 215.4h2v2h-2zM87.9 215.8h2v2h-2zM81.9 216.2h2v2h-2zM92.1 216.0h2v2h-2zM95.4 216.1h2v2h-2zM85.6 216.0h2v2h-2zM103.7 216.4h2v2h-2zM99.2 216.5h2v2h-2zM86.3 216.7h2v2h-2zM90.2 216.4h2v2h-2zM89.8 216.4h2v2h-2zM94.0 217.1h2v2h-2zM83.2 216.8h2v2h-2zM100.4 216.9h2v2h-2zM96.0 217.2h2v2h-2zM90.3 216.9h2v2h-2zM90.0 217.4h2v2h-2zM83.0 217.3h2v2h-2zM87.6 217.7h2v2h-2zM92.6 217.6h2v2h-2zM85.9 217.4h2v2h-2zM84.6 217.9h2v2h-2zM89.4 217.9h2v2h-2zM88.0 217.8h2v2h-2zM85.8 218.1h2v2h-2zM82.0 218.0h2v2h-2zM107.3 218.4h2v2h-2zM92.6 218.3h2v2h-2zM88.0 218.3h2v2h-2zM85.7 218.3h2v2h-2zM80.3 219.2h2v2h-2zM88.2 218.9h2v2h-2zM89.2 218.8h2v2h-2zM96.5 218.8h2v2h-2zM96.5 219.2h2v2h-2zM80.2 219.6h2v2h-2zM90.2 219.7h2v2h-2zM85.9 219.5h2v2h-2zM95.4 219.3h2v2h-2zM84.5 220.1h2v2h-2zM85.6 219.8h2v2h-2zM82.4 219.9h2v2h-2zM85.1 219.8h2v2h-2zM99.9 220.5h2v2h-2zM94.3 220.6h2v2h-2zM77.7 220.3h2v2h-2zM92.6 220.5h2v2h-2zM75.4 221.0h2v2h-2zM98.2 221.2h2v2h-2zM99.9 221.0h2v2h-2zM88.0 220.8h2v2h-2zM77.7 221.6h2v2h-2zM92.0 221.4h2v2h-2zM93.8 221.5h2v2h-2zM83.3 221.9h2v2h-2zM105.2 222.0h2v2h-2zM104.5 221.8h2v2h-2zM104.2 222.5h2v2h-2zM82.7 222.4h2v2h-2zM87.7 222.7h2v2h-2zM94.8 222.8h2v2h-2zM82.5 223.2h2v2h-2zM87.5 222.9h2v2h-2zM105.0 223.7h2v2h-2zM94.4 223.3h2v2h-2zM98.8 223.3h2v2h-2zM89.7 224.1h2v2h-2zM87.5 224.1h2v2h-2zM100.3 223.9h2v2h-2zM91.3 224.3h2v2h-2zM89.8 224.5h2v2h-2zM95.0 224.5h2v2h-2zM96.0 225.0h2v2h-2zM90.1 224.9h2v2h-2zM99.4 225.1h2v2h-2zM88.9 225.7h2v2h-2zM87.4 225.6h2v2h-2zM84.0 225.6h2v2h-2zM91.9 226.1h2v2h-2zM90.7 226.2h2v2h-2zM82.8 226.7h2v2h-2zM84.5 226.5h2v2h-2zM94.2 227.0h2v2h-2zM83.4 227.2h2v2h-2zM89.2 227.3h2v2h-2zM88.1 227.6h2v2h-2zM76.1 228.1h2v2h-2zM87.2 227.8h2v2h-2zM98.5 228.5h2v2h-2zM83.4 228.3h2v2h-2zM89.9 229.0h2v2h-2zM90.4 228.9h2v2h-2zM95.6 229.3h2v2h-2zM104.7 229.6h2v2h-2zM80.5 230.0h2v2h-2zM91.4 230.1h2v2h-2zM85.2 230.7h2v2h-2zM99.5 230.3h2v2h-2zM96.7 231.2h2v2h-2zM94.7 230.9h2v2h-2zM89.5 231.3h2v2h-2zM99.5 231.4h2v2h-2zM81.6 232.0h2v2h-2zM91.1 232.2h2v2h-2zM89.8 232.5h2v2h-2zM81.5 232.5h2v2h-2zM84.7 233.2h2v2h-2zM104.5 232.8h2v2h-2zM84.2 233.3h2v2h-2zM95.5 233.7h2v2h-2zM92.0 233.8h2v2h-2zM98.6 234.2h2v2h-2zM98.0 234.4h2v2h-2zM96.0 234.7h2v2h-2zM96.6 234.3h2v2h-2zM80.4 235.2h2v2h-2zM86.0 234.9h2v2h-2zM89.6 235.6h2v2h-2zM90.2 235.4h2v2h-2zM93.0 235.6h2v2h-2zM80.9 236.2h2v2h-2zM96.3 236.0h2v2h-2zM83.0 236.6h2v2h-2zM104.5 236.4h2v2h-2zM86.3 236.7h2v2h-2zM85.7 237.0h2v2h-2zM86.0 237.0h2v2h-2zM87.8 236.9h2v2h-2zM89.2 237.4h2v2h-2zM85.1 237.6h2v2h-2zM88.3 237.5h2v2h-2zM94.2 238.2h2v2h-2zM90.0 238.0h2v2h-2zM87.8 238.1h2v2h-2zM96.1 238.3h2v2h-2zM84.1 238.5h2v2h-2zM83.6 238.6h2v2h-2zM82.3 239.0h2v2h-2zM73.3 239.1h2v2h-2zM87.5 239.0h2v2h-2zM94.1 239.3h2v2h-2zM99.8 239.6h2v2h-2zM88.8 239.6h2v2h-2zM96.2 240.1h2v2h-2zM88.8 239.9h2v2h-2zM96.8 240.0h2v2h-2zM98.0 240.6h2v2h-2zM90.3 240.5h2v2h-2zM91.3 240.3h2v2h-2zM84.6 240.3h2v2h-2zM80.5 240.9h2v2h-2zM91.3 241.1h2v2h-2zM102.9 241.0h2v2h-2zM95.3 241.0h2v2h-2zM88.3 241.4h2v2h-2zM92.3 241.3h2v2h-2zM83.8 241.5h2v2h-2zM97.8 241.4h2v2h-2zM100.0 241.8h2v2h-2zM95.5 241.9h2v2h-2zM94.3 242.2h2v2h-2zM97.8 242.1h2v2h-2zM105.1 196.5h2v2h-2zM110.6 191.1h2v2h-2zM121.5 186.2h2v2h-2zM112.8 206.3h2v2h-2zM121.8 189.0h2v2h-2zM112.2 205.9h2v2h-2zM104.7 191.7h2v2h-2zM120.0 189.0h2v2h-2zM111.1 193.3h2v2h-2zM111.6 187.1h2v2h-2zM104.6 212.9h2v2h-2zM117.7 205.6h2v2h-2zM108.1 192.1h2v2h-2zM113.9 191.8h2v2h-2zM112.3 211.1h2v2h-2zM110.6 194.4h2v2h-2zM121.7 202.1h2v2h-2zM104.7 196.3h2v2h-2zM115.7 186.6h2v2h-2zM110.2 204.5h2v2h-2zM119.6 201.5h2v2h-2zM120.0 198.0h2v2h-2zM68.9 218.6h2v2h-2zM68.8 216.9h2v2h-2zM67.2 204.7h2v2h-2zM66.8 210.4h2v2h-2zM66.6 200.7h2v2h-2zM67.1 208.1h2v2h-2zM68.1 207.5h2v2h-2zM74.9 214.0h2v2h-2zM73.6 200.7h2v2h-2zM68.8 197.0h2v2h-2zM71.9 205.2h2v2h-2zM67.7 195.5h2v2h-2zM66.8 202.3h2v2h-2zM68.9 220.9h2v2h-2z" fill="#111"/>
</svg></body></html>
